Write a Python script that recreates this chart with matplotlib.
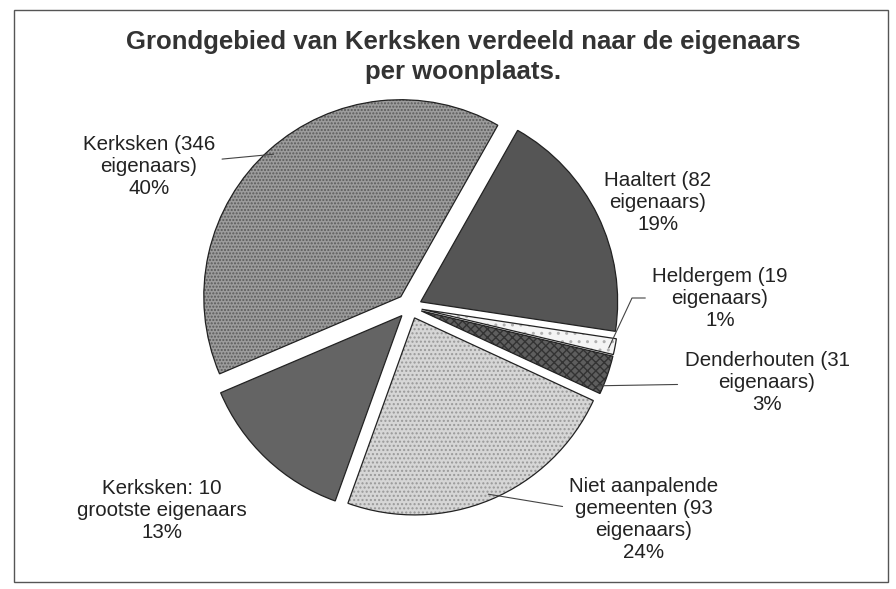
#!/usr/bin/env python3
"""Pie chart: Grondgebied van Kerksken verdeeld naar de eigenaars per woonplaats."""

import matplotlib
matplotlib.use("Agg")
import matplotlib.pyplot as plt
from matplotlib.patches import Wedge, Rectangle
import numpy as np

# ── Data (clockwise from the top right) ──
names = [
    "Haaltert (82\neigenaars)",
    "Heldergem (19\neigenaars)",
    "Denderhouten (31\neigenaars)",
    "Niet aanpalende\ngemeenten (93\neigenaars)",
    "Kerksken: 10\ngrootste eigenaars",
    "Kerksken (346\neigenaars)",
]
# wedge sizes (labels round them)
shares = [19.2, 1.3, 3.2, 23.6, 13.1, 39.6]

# ── Styling ──
faces = ["#555555", "#f4f4f4", "#5e5e5e", "#d6d6d6", "#646464", "#9c9c9c"]
hatches = [None, "..", "xxxx", "....", None, "....."]
hatch_cols = ["#555555", "#b0b0b0", "#333333", "#999999", "#646464", "#5a5a5a"]
explode = [0.06, 0.06, 0.06, 0.06, 0.06, 0.07]

# label centre in figure pixels (from top-left), leader line style and anchor spot
label_px = [(658, 202), (720, 298), (767, 383), (644, 520), (162, 510), (149, 166)]
leader = [None, "angle,angleA=0,angleB=65", "arc3", "arc3", None, "arc3"]
anchor_frac = [0.5, 0.35, 0.15, 0.5, 0.5, 0.5]
FONT = "Liberation Sans"
FS = 14.8

W, H = 896, 589
fig = plt.figure(figsize=(W / 100, H / 100), dpi=100)
fig.patch.set_facecolor("white")

# frame round the chart
fig.add_artist(Rectangle((14 / W, 1 - 582 / H), 874 / W, 572 / H,
                         transform=fig.transFigure, fill=False,
                         edgecolor="#555555", linewidth=1.0))

R = 197
cx, cy = 410, 307
half = 1.1 * R
ax = fig.add_axes([(cx - half) / W, (H - cy - half) / H, 2 * half / W, 2 * half / H])

wedges, _ = ax.pie(shares, explode=explode, startangle=60.5, counterclock=False,
                   radius=1.0, wedgeprops=dict(linewidth=0))
ax.set_xlim(-1.1, 1.1)
ax.set_ylim(-1.1, 1.1)
ax.set_aspect("equal")
ax.axis("off")

for w, fc, hc, hc_col in zip(wedges, faces, hatches, hatch_cols):
    w.set_facecolor(fc)
    w.set_edgecolor(hc_col)
    w.set_linewidth(0)
    if hc:
        w.set_hatch(hc)
    # outline drawn on top
    ax.add_patch(Wedge(w.center, w.r, w.theta1, w.theta2, facecolor="none",
                       edgecolor="#222222", linewidth=0.9))

for w, name, share, (px, py), conn, frac in zip(wedges, names, shares, label_px,
                                                leader, anchor_frac):
    text = f"{name}\n{share:.0f}%"
    xy_text = (px / W, 1 - py / H)
    if conn:
        ang = np.deg2rad(w.theta1 + frac * (w.theta2 - w.theta1))
        anchor = (w.center[0] + w.r * 0.97 * np.cos(ang),
                  w.center[1] + w.r * 0.97 * np.sin(ang))
        ax.annotate(text, xy=anchor, xycoords="data", xytext=xy_text,
                    textcoords="figure fraction", ha="center", va="center",
                    fontsize=FS, family=FONT, color="#222222", linespacing=1.2,
                    annotation_clip=False,
                    arrowprops=dict(arrowstyle="-", color="#444444", lw=0.8,
                                    connectionstyle=conn, shrinkA=3, shrinkB=0))
    else:
        fig.text(*xy_text, text, ha="center", va="center", fontsize=FS,
                 family=FONT, color="#222222", linespacing=1.2)

fig.text(463 / W, 1 - 57 / H,
         "Grondgebied van Kerksken verdeeld naar de eigenaars\nper woonplaats.",
         ha="center", va="center", fontsize=18.5, fontweight="bold",
         family=FONT, color="#333333", linespacing=1.3)

fig.savefig("out.png", dpi=100)
